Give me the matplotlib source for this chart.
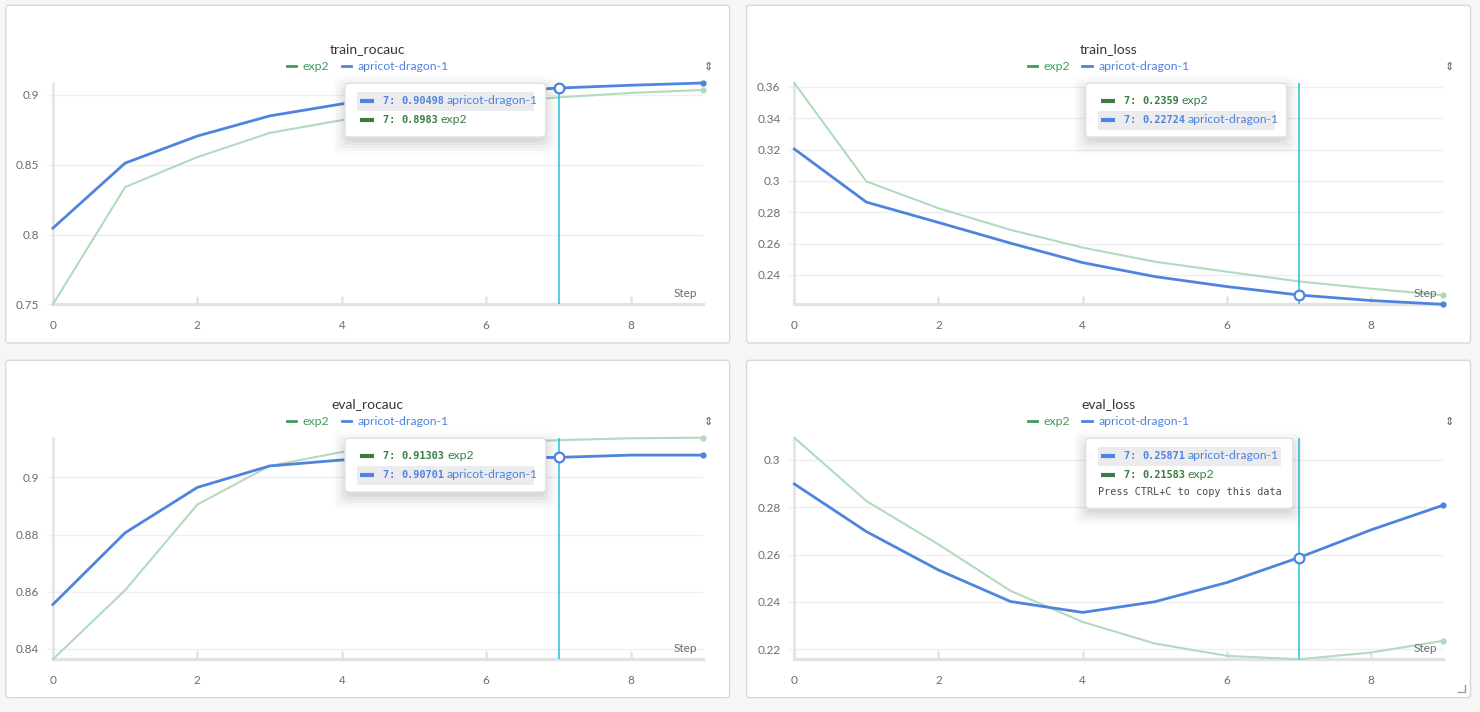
"""Recreate a four-panel training dashboard (rocauc / loss curves for two runs)."""

import matplotlib

matplotlib.use("Agg")

import matplotlib.pyplot as plt
from matplotlib.lines import Line2D
from matplotlib.patches import FancyBboxPatch, Rectangle
from matplotlib.ticker import FuncFormatter


STEPS = list(range(10))

TRAIN_ROCAUC_EXP2 = [0.750, 0.834, 0.8555, 0.8728, 0.882, 0.889, 0.894, 0.8983, 0.9015, 0.9036]
TRAIN_ROCAUC_APRICOT = [0.8046, 0.8512, 0.8706, 0.885, 0.8936, 0.899, 0.902, 0.90498, 0.907, 0.9086]

TRAIN_LOSS_EXP2 = [0.3625, 0.2997, 0.2826, 0.2688, 0.2575, 0.2485, 0.2421, 0.2359, 0.2313, 0.2271]
TRAIN_LOSS_APRICOT = [0.3204, 0.2865, 0.2735, 0.2603, 0.2479, 0.2390, 0.2326, 0.22724, 0.2237, 0.2213]

EVAL_ROCAUC_EXP2 = [0.8363, 0.8605, 0.8905, 0.904, 0.9089, 0.911, 0.9122, 0.91303, 0.9137, 0.9139]
EVAL_ROCAUC_APRICOT = [0.8555, 0.8806, 0.8965, 0.904, 0.9061, 0.9065, 0.9068, 0.90701, 0.9078, 0.9078]

EVAL_LOSS_EXP2 = [0.3093, 0.2826, 0.2643, 0.2447, 0.2316, 0.2225, 0.2173, 0.21583, 0.2187, 0.2236]
EVAL_LOSS_APRICOT = [0.2898, 0.2697, 0.2535, 0.2402, 0.2356, 0.2401, 0.2482, 0.25871, 0.2704, 0.2808]

TRAIN_ROCAUC_TICKS = [0.75, 0.8, 0.85, 0.9]
TRAIN_LOSS_TICKS = [0.24, 0.26, 0.28, 0.30, 0.32, 0.34, 0.36]
EVAL_ROCAUC_TICKS = [0.84, 0.86, 0.88, 0.9]
EVAL_LOSS_TICKS = [0.22, 0.24, 0.26, 0.28, 0.30]
X_TICKS = [0, 2, 4, 6, 8]

RUN_NAMES = ["exp2", "apricot-dragon-1"]
HOVER_STEP = 7

W, H = 1480, 712

BG = "#f6f6f7"
PANEL_EDGE = "#d9d9dc"
GREEN_LINE = "#b2dbbd"
GREEN_TEXT = "#3f9b5c"
GREEN_TIP = "#3a7d46"
BLUE = "#4f84de"
CYAN = "#22c3d9"
AXIS_GRAY = "#e3e3e6"
GRID_GRAY = "#efeff1"
TICK_TEXT = "#6b6b75"
TITLE_TEXT = "#35353b"

SANS = ["Lato", "DejaVu Sans"]
MONO = ["DejaVu Sans Mono"]


def fig_rect(x0, y_top, x1, y_bot):
    """Convert a pixel box (top-left origin) to a figure-fraction rect."""
    return [x0 / W, 1 - y_bot / H, (x1 - x0) / W, (y_bot - y_top) / H]


def style_axes(ax, yticks, exp2, apricot):
    values = exp2 + apricot
    ax.set_xlim(0, 9)
    ax.set_ylim(min(values), max(values))
    ax.set_xticks(X_TICKS)
    ax.set_yticks(yticks)
    ax.yaxis.set_major_formatter(FuncFormatter(lambda v, _: f"{v:g}"))
    for side in ("top", "right"):
        ax.spines[side].set_visible(False)
    ax.spines["left"].set_color(AXIS_GRAY)
    ax.spines["left"].set_linewidth(1.8)
    ax.spines["bottom"].set_color(AXIS_GRAY)
    ax.spines["bottom"].set_linewidth(2.4)
    ax.tick_params(axis="x", direction="in", length=6, width=1.8, color=AXIS_GRAY,
                   pad=11, labelsize=8.5, labelcolor=TICK_TEXT)
    ax.tick_params(axis="y", direction="out", length=4, width=1.0, color=GRID_GRAY,
                   pad=6, labelsize=8.5, labelcolor=TICK_TEXT)
    for label in ax.get_xticklabels() + ax.get_yticklabels():
        label.set_fontfamily(SANS)
    ax.grid(True, axis="y", color=GRID_GRAY, linewidth=1.0)
    ax.set_axisbelow(True)
    ax.annotate("Step", xy=(1, 0), xycoords="axes fraction", xytext=(-4.5, 3.5),
                textcoords="offset points", ha="right", va="bottom",
                fontsize=8.5, color=TICK_TEXT, fontfamily=SANS)


def plot_runs(ax, exp2, apricot):
    ax.plot(STEPS, exp2, color=GREEN_LINE, linewidth=1.5, clip_on=False, zorder=3,
            marker="o", markevery=[9], markersize=3.5)
    ax.plot(STEPS, apricot, color=BLUE, linewidth=2.0, clip_on=False, zorder=4,
            marker="o", markevery=[9], markersize=3.5)
    ax.axvline(HOVER_STEP, color=CYAN, linewidth=1.1, zorder=5)
    ax.plot([HOVER_STEP], [apricot[HOVER_STEP]], marker="o", markersize=7,
            markerfacecolor="white", markeredgecolor=BLUE, markeredgewidth=1.6,
            clip_on=False, zorder=6)


def draw_panel_frame(bg, fig, box, title, title_y, legend_y):
    x0, y0, x1, y1 = box
    bg.add_patch(FancyBboxPatch((x0, y0), x1 - x0, y1 - y0,
                                boxstyle="round,pad=0,rounding_size=3",
                                facecolor="white", edgecolor=PANEL_EDGE, linewidth=1.0))
    cx = (x0 + x1) / 2
    fig.text(cx / W, 1 - title_y / H, title, ha="center", va="center",
             fontsize=10, color=TITLE_TEXT, fontfamily=SANS)
    handles = [Line2D([0], [0], color=GREEN_TEXT, linewidth=2.0),
               Line2D([0], [0], color=BLUE, linewidth=2.0)]
    fig.legend(handles, RUN_NAMES, loc="center", bbox_to_anchor=(cx / W, 1 - legend_y / H),
               ncol=2, frameon=False, handlelength=0.75, handletextpad=0.55,
               columnspacing=1.0, labelcolor=[GREEN_TEXT, BLUE],
               prop={"family": SANS, "size": 8.8}, borderpad=0)
    # small sort/settings icon in the upper right corner of each panel
    fig.text((x1 - 21) / W, 1 - legend_y / H, "\u21d5", ha="center", va="center",
             fontsize=8, color="#5a5a60", fontfamily=["DejaVu Sans"])


def draw_tooltip(ov, box, rows, highlight, highlight_right, footer=None):
    x0, y0, x1, y1 = box
    for i, alpha in enumerate([0.045, 0.035, 0.028, 0.022, 0.016]):
        grow = 2 + 3 * i
        ov.add_patch(FancyBboxPatch((x0 - grow + 2, y0 - grow + 7), x1 - x0 + 2 * grow - 4,
                                    y1 - y0 + 2 * grow - 4,
                                    boxstyle="round,pad=0,rounding_size=8",
                                    facecolor="#000000", edgecolor="none", alpha=alpha))
    ov.add_patch(FancyBboxPatch((x0, y0), x1 - x0, y1 - y0,
                                boxstyle="round,pad=0,rounding_size=4",
                                facecolor="white", edgecolor="#e2e2e5", linewidth=1.0))
    for i, (name, value) in enumerate(rows):
        y = y0 + 18 + 19 * i
        is_blue = name == RUN_NAMES[1]
        color = BLUE if is_blue else GREEN_TIP
        if i == highlight:
            ov.add_patch(Rectangle((x0 + 12, y - 9.5), highlight_right - x0 - 12, 19,
                                   facecolor="#ececee", edgecolor="none"))
        ov.plot([x0 + 15, x0 + 29], [y, y], color=color, linewidth=3.0,
                solid_capstyle="butt")
        head = ov.text(x0 + 38, y, f"{HOVER_STEP}: ", fontfamily=MONO, fontsize=7.4,
                       fontweight="bold", color=color, ha="left", va="center")
        val = ov.annotate(value, xy=(1, 0.5), xycoords=head, xytext=(0, 0),
                          textcoords="offset points", ha="left", va="center",
                          fontfamily=MONO, fontsize=7.4, fontweight="bold", color=color)
        ov.annotate(name, xy=(1, 0.5), xycoords=val, xytext=(2, 0.5),
                    textcoords="offset points", ha="left", va="center",
                    fontfamily=SANS, fontsize=8.8, color=color)
    if footer:
        y = y0 + 18 + 19 * len(rows) - 2
        ov.text(x0 + 12, y, footer, fontfamily=MONO, fontsize=7.3, color="#4a4a50",
                ha="left", va="center")


def main():
    fig = plt.figure(figsize=(W / 100, H / 100), dpi=100, facecolor=BG)

    bg = fig.add_axes([0, 0, 1, 1], zorder=-5)
    bg.set_xlim(0, W)
    bg.set_ylim(H, 0)
    bg.axis("off")

    left_col = (52.9, 703.0)
    right_col = (794.3, 1443.0)
    top_row = (83.0, 304.3)
    bottom_row = (437.7, 659.3)

    panels = [
        ("train_rocauc", TRAIN_ROCAUC_EXP2, TRAIN_ROCAUC_APRICOT, TRAIN_ROCAUC_TICKS,
         (5.7, 5.3, 729.6, 343.0), left_col, top_row, 48.7, 67.0),
        ("train_loss", TRAIN_LOSS_EXP2, TRAIN_LOSS_APRICOT, TRAIN_LOSS_TICKS,
         (746.6, 5.3, 1470.5, 343.0), right_col, top_row, 48.7, 67.0),
        ("eval_rocauc", EVAL_ROCAUC_EXP2, EVAL_ROCAUC_APRICOT, EVAL_ROCAUC_TICKS,
         (5.7, 360.3, 729.6, 697.7), left_col, bottom_row, 403.7, 422.0),
        ("eval_loss", EVAL_LOSS_EXP2, EVAL_LOSS_APRICOT, EVAL_LOSS_TICKS,
         (746.6, 360.3, 1470.5, 697.7), right_col, bottom_row, 403.7, 422.0),
    ]

    for title, exp2, apricot, yticks, box, col, row, title_y, legend_y in panels:
        draw_panel_frame(bg, fig, box, title, title_y, legend_y)
        ax = fig.add_axes(fig_rect(col[0], row[0], col[1], row[1]), zorder=1)
        ax.set_facecolor("none")
        plot_runs(ax, exp2, apricot)
        style_axes(ax, yticks, exp2, apricot)

    ov = fig.add_axes([0, 0, 1, 1], zorder=10)
    ov.set_xlim(0, W)
    ov.set_ylim(H, 0)
    ov.axis("off")
    ov.patch.set_alpha(0)

    def fmt(v):
        return f"{v:g}"

    draw_tooltip(ov, (345.0, 83.3, 545.7, 137.0),
                 [(RUN_NAMES[1], fmt(TRAIN_ROCAUC_APRICOT[HOVER_STEP])),
                  (RUN_NAMES[0], fmt(TRAIN_ROCAUC_EXP2[HOVER_STEP]))],
                 highlight=0, highlight_right=534.0)
    draw_tooltip(ov, (1085.8, 83.3, 1286.7, 137.0),
                 [(RUN_NAMES[0], fmt(TRAIN_LOSS_EXP2[HOVER_STEP])),
                  (RUN_NAMES[1], fmt(TRAIN_LOSS_APRICOT[HOVER_STEP]))],
                 highlight=1, highlight_right=1275.0)
    draw_tooltip(ov, (345.0, 438.3, 545.7, 492.0),
                 [(RUN_NAMES[0], fmt(EVAL_ROCAUC_EXP2[HOVER_STEP])),
                  (RUN_NAMES[1], fmt(EVAL_ROCAUC_APRICOT[HOVER_STEP]))],
                 highlight=1, highlight_right=534.0)
    draw_tooltip(ov, (1085.8, 438.3, 1292.8, 508.3),
                 [(RUN_NAMES[1], fmt(EVAL_LOSS_APRICOT[HOVER_STEP])),
                  (RUN_NAMES[0], fmt(EVAL_LOSS_EXP2[HOVER_STEP]))],
                 highlight=0, highlight_right=1281.0,
                 footer="Press CTRL+C to copy this data")

    # resize grip in the bottom-right corner of the last panel
    ov.plot([1458, 1465, 1465], [692, 692, 685], color="#9a9aa0", linewidth=1.0)

    fig.savefig("out.png", dpi=100, facecolor=BG)
    plt.close(fig)


if __name__ == "__main__":
    main()
